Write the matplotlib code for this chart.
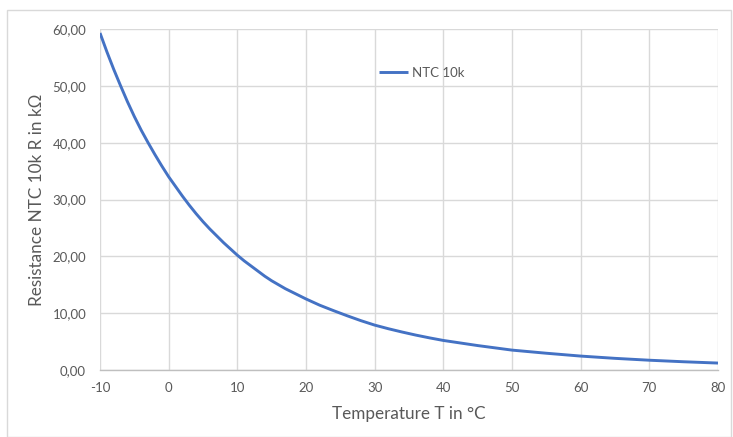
import matplotlib
matplotlib.use("Agg")
import matplotlib.pyplot as plt
from matplotlib.ticker import FuncFormatter, MultipleLocator
from matplotlib.patches import Rectangle

temperature = [-10, -9, -8, -7, -6, -5, -4, -3, -2, -1, 0, 1, 2, 3, 4, 5, 6, 7, 8, 9,
               10, 11, 12, 13, 14, 15, 16, 17, 18, 19, 20, 22, 24, 26, 28, 30,
               32, 34, 36, 38, 40, 45, 50, 55, 60, 65, 70, 75, 80]
resistance = [59.3, 56.0, 52.9, 50.0, 47.2, 44.6, 42.2, 40.0, 37.9, 35.9, 34.0, 32.3, 30.6, 29.0, 27.5,
              26.1, 24.8, 23.6, 22.4, 21.3, 20.2, 19.2, 18.3, 17.4, 16.5, 15.7, 15.0, 14.3, 13.7, 13.1,
              12.5, 11.4, 10.45, 9.54, 8.68, 7.9, 7.26, 6.68, 6.14, 5.65, 5.2, 4.3, 3.5, 2.95, 2.45,
              2.05, 1.72, 1.45, 1.22]
series_name = "NTC 10k"
x_label = "Temperature T in °C"
y_label = "Resistance NTC 10k R in kΩ"

plt.rcParams['font.family'] = ['Lato', 'DejaVu Sans']

W, H = 733, 437
fig = plt.figure(figsize=(W / 100, H / 100), dpi=100)
ax = fig.add_axes([100 / W, 1 - 370 / H, (718 - 100) / W, (370 - 29) / H])

ax.plot(temperature, resistance, color="#4472C4", linewidth=2.1, label=series_name,
        solid_joinstyle="round", solid_capstyle="butt", zorder=3)

ax.set_xlim(-10, 80)
ax.set_ylim(0, 60)
ax.xaxis.set_major_locator(MultipleLocator(10))
ax.yaxis.set_major_locator(MultipleLocator(10))
ax.yaxis.set_major_formatter(FuncFormatter(lambda v, p: f"{v:.2f}".replace(".", ",")))
ax.xaxis.set_major_formatter(FuncFormatter(lambda v, p: f"{int(round(v))}"))

ax.grid(True, color="#d9d9d9", linewidth=1.0, zorder=0)
ax.set_axisbelow(True)
for s in ["left", "right", "top"]:
    ax.spines[s].set_visible(False)
ax.spines["bottom"].set_color("#bfbfbf")
ax.spines["bottom"].set_linewidth(1.0)
ax.tick_params(axis="both", length=0, labelsize=9.5, labelcolor="#595959")
ax.tick_params(axis="x", pad=9)
ax.tick_params(axis="y", pad=10)

ax.set_xlabel(x_label, fontsize=12.3, color="#595959", labelpad=8)
ax.set_ylabel(y_label, fontsize=12.3, color="#595959", labelpad=5)

leg = ax.legend(loc="center", bbox_to_anchor=((422 - 100) / (718 - 100), (370 - 73) / (370 - 29)),
                frameon=False, fontsize=9.5, handlelength=2.2, handletextpad=0.3,
                labelcolor="#595959")

fig.patches.append(Rectangle((7 / W, 0), (731 - 7) / W, 1 - 10 / H, transform=fig.transFigure,
                             fill=False, edgecolor="#d9d9d9", linewidth=1.0))

fig.savefig("out.png", dpi=100)
